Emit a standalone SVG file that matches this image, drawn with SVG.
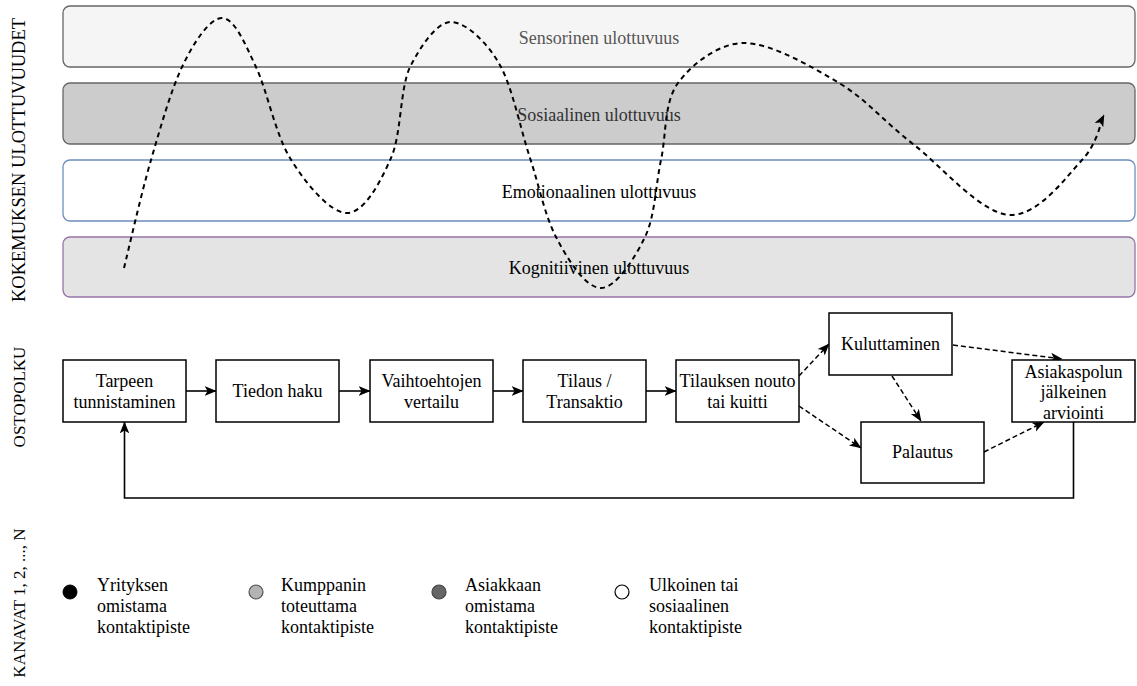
<svg xmlns="http://www.w3.org/2000/svg" width="1137" height="686" viewBox="0 0 1137 686">
<defs>
<style>
text{font-family:"Liberation Serif","Times New Roman",serif;fill:#000}
.band{stroke-width:1.3}
.bl{font-size:18px;text-anchor:middle}
.side{font-size:17px;text-anchor:middle}
.node rect{fill:#fff;stroke:#000;stroke-width:1.5}
.nt{font-size:18px;text-anchor:middle}
.lg{font-size:18px}
.solid{fill:none;stroke:#000;stroke-width:1.6}
.dash{fill:none;stroke:#000;stroke-width:1.5;stroke-dasharray:5 3}
.curve{fill:none;stroke:#000;stroke-width:2;stroke-dasharray:5 4}
</style>
<marker id="arr" viewBox="0 0 10 10" refX="9.5" refY="5" markerWidth="12" markerHeight="12" markerUnits="userSpaceOnUse" orient="auto">
<path d="M0,1 L10,5 L0,9 L2.5,5 Z" fill="#000"/>
</marker>
<marker id="arrc" viewBox="0 0 10 10" refX="9.5" refY="5" markerWidth="12" markerHeight="12" markerUnits="userSpaceOnUse" orient="auto">
<path d="M0,1 L10,5 L0,9 L2.5,5 Z" fill="#000"/>
</marker>
</defs>
<rect width="1137" height="686" fill="#fff"/>

<g id="side-labels">
<text class="side" transform="translate(25,160) rotate(-90)" style="font-size:18.5px">KOKEMUKSEN ULOTTUVUUDET</text>
<text class="side" transform="translate(25,397) rotate(-90)">OSTOPOLKU</text>
<text class="side" transform="translate(25,603) rotate(-90)">KANAVAT 1, 2, ..., N</text>
</g>

<g id="band-sensorinen">
<rect class="band" x="63" y="6" width="1072" height="61" rx="7" fill="#f5f5f5" stroke="#666"/>
<text class="bl" x="599" y="44" style="fill:#555">Sensorinen ulottuvuus</text>
</g>
<g id="band-sosiaalinen">
<rect class="band" x="63" y="83" width="1072" height="61" rx="7" fill="#cccccc" stroke="#666"/>
<text class="bl" x="599" y="121" style="fill:#333">Sosiaalinen ulottuvuus</text>
</g>
<g id="band-emotionaalinen">
<rect class="band" x="63" y="160" width="1072" height="61" rx="7" fill="#ffffff" stroke="#6c8ebf"/>
<text class="bl" x="599" y="198">Emotionaalinen ulottuvuus</text>
</g>
<g id="band-kognitiivinen">
<rect class="band" x="63" y="237" width="1072" height="60" rx="7" fill="#e4e4e4" stroke="#9673a6"/>
<text class="bl" x="599" y="274">Kognitiivinen ulottuvuus</text>
</g>

<g id="experience-curve">
<path class="curve" marker-end="url(#arrc)" d="M124,268 C128.5,250 141.2,193.5 151,160 C160.8,126.5 170.8,90.7 182,67 C193.2,43.3 209.5,18 222,18 C234.5,18 245,43.7 256,67 C267,90.3 275.2,133.7 290,158 C304.8,182.3 329.7,213 347,213 C364.3,213 380.3,182.3 391,158 C401.7,133.7 399.7,89.2 410,67 C421.3,44.8 437.2,22 451,22 C466.8,22 489.3,44.8 501,67 C512.7,89.2 520.7,129.7 530,158 C539.3,186.3 544.7,215.3 556,237 C567.3,258.7 585.2,288 601,288 C615.8,288 634.8,258.3 645,237 C655.2,215.7 655.5,185.7 661,160 C666.5,134.3 663.8,102.5 678,83 C692.2,63.5 719.2,43 744,43 C770.8,43 811.2,66.2 839,83 C866.8,99.8 884.5,122 913,144 C941.5,166 981.8,215 1011,215 C1039.2,215 1066.3,176.7 1082,160 C1097.7,143.3 1100.3,122.5 1104,115"/>
</g>

<g id="connectors">
<line class="solid" x1="186" y1="391" x2="216" y2="391" marker-end="url(#arr)"/>
<line class="solid" x1="339" y1="391" x2="370" y2="391" marker-end="url(#arr)"/>
<line class="solid" x1="493" y1="391" x2="523" y2="391" marker-end="url(#arr)"/>
<line class="solid" x1="646" y1="391" x2="676" y2="391" marker-end="url(#arr)"/>
<path class="solid" d="M1073.5,422 V498 H124.5 V422" marker-end="url(#arr)"/>
<line class="dash" x1="799" y1="376" x2="829" y2="344" marker-end="url(#arr)"/>
<line class="dash" x1="799" y1="406" x2="861" y2="448" marker-end="url(#arr)"/>
<line class="dash" x1="892" y1="376" x2="921" y2="421" marker-end="url(#arr)"/>
<line class="dash" x1="953" y1="345" x2="1062" y2="359" marker-end="url(#arr)"/>
<line class="dash" x1="984" y1="452" x2="1044" y2="422" marker-end="url(#arr)"/>
</g>

<g id="node-tarpeen" class="node">
<rect x="63" y="360" width="123" height="62"/>
<text class="nt" x="124.5" y="387">Tarpeen</text>
<text class="nt" x="124.5" y="408">tunnistaminen</text>
</g>
<g id="node-tiedon" class="node">
<rect x="216" y="360" width="123" height="62"/>
<text class="nt" x="277.5" y="397">Tiedon haku</text>
</g>
<g id="node-vaihtoehtojen" class="node">
<rect x="370" y="360" width="123" height="62"/>
<text class="nt" x="431.5" y="387">Vaihtoehtojen</text>
<text class="nt" x="431.5" y="408">vertailu</text>
</g>
<g id="node-tilaus" class="node">
<rect x="523" y="360" width="123" height="62"/>
<text class="nt" x="584.5" y="387">Tilaus /</text>
<text class="nt" x="584.5" y="408">Transaktio</text>
</g>
<g id="node-nouto" class="node">
<rect x="676" y="360" width="123" height="62"/>
<text class="nt" x="737.5" y="387">Tilauksen nouto</text>
<text class="nt" x="737.5" y="408">tai kuitti</text>
</g>
<g id="node-kuluttaminen" class="node">
<rect x="829" y="313" width="123" height="62"/>
<text class="nt" x="890.5" y="350">Kuluttaminen</text>
</g>
<g id="node-palautus" class="node">
<rect x="861" y="422" width="123" height="61"/>
<text class="nt" x="922.5" y="458">Palautus</text>
</g>
<g id="node-asiakaspolun" class="node">
<rect x="1012" y="360" width="123" height="62"/>
<text class="nt" x="1073.5" y="377.5">Asiakaspolun</text>
<text class="nt" x="1073.5" y="398">jälkeinen</text>
<text class="nt" x="1073.5" y="418.5">arviointi</text>
</g>

<g id="legend-yritys">
<circle cx="70" cy="592" r="7" fill="#000" stroke="#000"/>
<text class="lg" x="97" y="591">Yrityksen</text>
<text class="lg" x="97" y="612">omistama</text>
<text class="lg" x="97" y="633">kontaktipiste</text>
</g>
<g id="legend-kumppani">
<circle cx="256" cy="592" r="7" fill="#b3b3b3" stroke="#555" stroke-width="1.2"/>
<text class="lg" x="281" y="591">Kumppanin</text>
<text class="lg" x="281" y="612">toteuttama</text>
<text class="lg" x="281" y="633">kontaktipiste</text>
</g>
<g id="legend-asiakas">
<circle cx="439" cy="592" r="7" fill="#666" stroke="#444" stroke-width="1.2"/>
<text class="lg" x="465" y="591">Asiakkaan</text>
<text class="lg" x="465" y="612">omistama</text>
<text class="lg" x="465" y="633">kontaktipiste</text>
</g>
<g id="legend-ulkoinen">
<circle cx="622" cy="592" r="7" fill="#fff" stroke="#000" stroke-width="1.2"/>
<text class="lg" x="649" y="591">Ulkoinen tai</text>
<text class="lg" x="649" y="612">sosiaalinen</text>
<text class="lg" x="649" y="633">kontaktipiste</text>
</g>
</svg>
